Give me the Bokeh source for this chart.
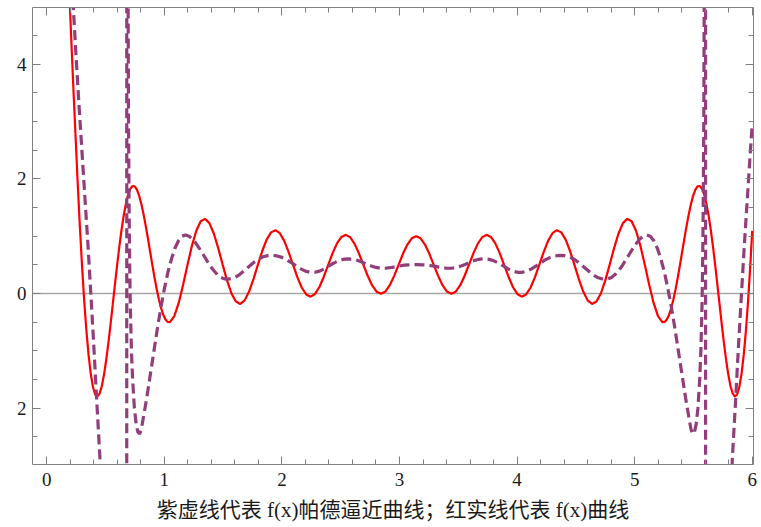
from bokeh.plotting import figure
from bokeh.models import Range1d, LinearAxis, SingleIntervalTicker, Span
from bokeh.embed import file_html
from bokeh.resources import INLINE

# ---- data: red solid curve f(x) ----
red_x = [0.1870, 0.2244, 0.2618, 0.2805, 0.2992, 0.3179, 0.3366, 0.3553, 0.3740, 0.3927,
         0.4114, 0.4301, 0.4488, 0.4675, 0.4862, 0.5049, 0.5236, 0.5423, 0.5610, 0.5797,
         0.5984, 0.6171, 0.6358, 0.6545, 0.6732, 0.6919, 0.7106, 0.7293, 0.7480, 0.7667,
         0.7854, 0.8041, 0.8228, 0.8415, 0.8602, 0.8789, 0.8976, 0.9163, 0.9350, 0.9537,
         0.9724, 0.9911, 1.0098, 1.0285, 1.0472,
         1.0846, 1.1220, 1.1594, 1.1968, 1.2342,
         1.2716, 1.3090, 1.3464, 1.3838, 1.4212, 1.4586, 1.4960, 1.5334, 1.5708, 1.6082,
         1.6456, 1.6830, 1.7204, 1.7578, 1.7952, 1.8326, 1.8700, 1.9074, 1.9448, 1.9822,
         2.0196, 2.0570, 2.0944, 2.1318, 2.1692, 2.2066, 2.2440, 2.2814, 2.3188, 2.3562,
         2.3936, 2.4310, 2.4684, 2.5058, 2.5432, 2.5806, 2.6180, 2.6554, 2.6928, 2.7302,
         2.7676, 2.8050, 2.8424, 2.8798, 2.9172, 2.9546, 2.9920, 3.0294, 3.0668, 3.1042,
         3.1416, 3.1790, 3.2164, 3.2538, 3.2912, 3.3286, 3.3660, 3.4034, 3.4408, 3.4782,
         3.5156, 3.5530, 3.5904, 3.6278, 3.6652, 3.7026, 3.7400, 3.7774, 3.8148, 3.8522,
         3.8896, 3.9270, 3.9644, 4.0018, 4.0392, 4.0766, 4.1140, 4.1514, 4.1888, 4.2262,
         4.2636, 4.3010, 4.3384, 4.3758, 4.4132, 4.4506, 4.4880, 4.5254, 4.5628, 4.6002,
         4.6376, 4.6750, 4.7124, 4.7498, 4.7872, 4.8246, 4.8620, 4.8994, 4.9368, 4.9742,
         5.0116, 5.0490, 5.0864, 5.1238, 5.1612, 5.1986,
         5.2360, 5.2547, 5.2734, 5.2921, 5.3108, 5.3295, 5.3482, 5.3669, 5.3856, 5.4043,
         5.4230, 5.4417, 5.4604, 5.4791, 5.4978, 5.5165, 5.5352, 5.5539, 5.5726, 5.5913,
         5.6100, 5.6287, 5.6474, 5.6661, 5.6848, 5.7035, 5.7222, 5.7409, 5.7596, 5.7783,
         5.7970, 5.8157, 5.8344, 5.8531, 5.8718, 5.8905, 5.9092, 5.9279, 5.9466, 5.9653,
         5.9840, 6.0000]
red_y = [5.455, 3.660, 1.967, 1.198, 0.500, -0.116, -0.642, -1.072, -1.402, -1.631,
         -1.762, -1.798, -1.747, -1.617, -1.419, -1.164, -0.866, -0.537, -0.191, 0.159,
         0.500, 0.821, 1.112, 1.364, 1.570, 1.726, 1.828, 1.875, 1.869, 1.811,
         1.707, 1.562, 1.384, 1.180, 0.959, 0.729, 0.500, 0.279, 0.075, -0.105,
         -0.257, -0.374, -0.455, -0.497, -0.500,
         -0.395, -0.165, 0.151, 0.500, 0.831,
         1.095, 1.259, 1.302, 1.224, 1.042, 0.787, 0.500, 0.224, 0.000, -0.141,
         -0.182, -0.120, 0.034, 0.252, 0.500, 0.741, 0.939, 1.066, 1.105, 1.052,
         0.918, 0.723, 0.500, 0.281, 0.100, -0.017, -0.055, -0.008, 0.114, 0.293,
         0.500, 0.704, 0.875, 0.986, 1.023, 0.981, 0.866, 0.697, 0.500, 0.305,
         0.140, 0.031, -0.006, 0.034, 0.144, 0.308, 0.500, 0.692, 0.854, 0.962,
         1.000, 0.962, 0.854, 0.692, 0.500, 0.308, 0.144, 0.034, -0.006, 0.031,
         0.140, 0.305, 0.500, 0.697, 0.866, 0.981, 1.023, 0.986, 0.875, 0.704,
         0.500, 0.293, 0.114, -0.008, -0.055, -0.017, 0.100, 0.281, 0.500, 0.723,
         0.918, 1.052, 1.105, 1.066, 0.939, 0.741, 0.500, 0.252, 0.034, -0.120,
         -0.182, -0.141, 0.000, 0.224, 0.500, 0.787, 1.042, 1.224, 1.302, 1.259,
         1.095, 0.831, 0.500, 0.151, -0.165, -0.395,
         -0.500, -0.497, -0.455, -0.374, -0.257, -0.105, 0.075, 0.279, 0.500, 0.729,
         0.959, 1.180, 1.384, 1.562, 1.707, 1.811, 1.869, 1.875, 1.828, 1.726,
         1.570, 1.364, 1.112, 0.821, 0.500, 0.159, -0.191, -0.537, -0.866, -1.164,
         -1.419, -1.617, -1.747, -1.798, -1.762, -1.631, -1.402, -1.072, -0.642, -0.116,
         0.500, 1.093]

# ---- data: purple dashed curve (Pade approximant) ----
pade_x = [0.200, 0.225, 0.250, 0.275, 0.300, 0.325, 0.350, 0.375, 0.400, 0.425,
          0.450, 0.475, 0.500, 0.550, 0.600, 0.640, 0.665, 0.678, 0.682, 0.684,
          0.687, 0.691, 0.695, 0.700, 0.705, 0.710, 0.720, 0.730, 0.745, 0.760,
          0.775, 0.790, 0.805, 0.820, 0.850, 0.880, 0.910, 0.940, 0.970, 1.000,
          1.030, 1.060, 1.090, 1.120, 1.150, 1.180, 1.210, 1.240, 1.270, 1.300,
          1.330, 1.360, 1.390, 1.420, 1.450, 1.480, 1.510, 1.540, 1.570, 1.600,
          1.640, 1.680, 1.720, 1.760, 1.800, 1.840, 1.880, 1.920, 1.960, 2.000,
          2.040, 2.080, 2.120, 2.160, 2.200, 2.240, 2.280, 2.320, 2.360, 2.400,
          2.440, 2.480, 2.520, 2.560, 2.600, 2.640, 2.680, 2.720, 2.760, 2.800,
          2.840, 2.880, 2.920, 2.960, 3.000, 3.040, 3.080, 3.1416,
          3.2032, 3.2432, 3.2832, 3.3232, 3.3632, 3.4032, 3.4432, 3.4832, 3.5232, 3.5632,
          3.6032, 3.6432, 3.6832, 3.7232, 3.7632, 3.8032, 3.8432, 3.8832, 3.9232, 3.9632,
          4.0032, 4.0432, 4.0832, 4.1232, 4.1632, 4.2032, 4.2432, 4.2832, 4.3232, 4.3632,
          4.4032, 4.4432, 4.4832, 4.5232, 4.5632, 4.6032, 4.6432, 4.6832, 4.7132, 4.7432,
          4.7732, 4.8032, 4.8332, 4.8632, 4.8932, 4.9232, 4.9532, 4.9832, 5.0132, 5.0432,
          5.0732, 5.1032, 5.1332, 5.1632, 5.1932, 5.2232, 5.2532, 5.2832, 5.3132, 5.3432,
          5.3732, 5.4032, 5.4332, 5.4632, 5.4782, 5.4932, 5.5082, 5.5232, 5.5382, 5.5532,
          5.5632, 5.5732, 5.5782, 5.5832, 5.5882, 5.5922, 5.5962, 5.5992, 5.6012, 5.6052,
          5.6182, 5.6432, 5.6832, 5.7332, 5.7832, 5.8082, 5.8332, 5.8582, 5.8832, 5.9082,
          5.9332, 5.9582, 5.9832, 6.0000]
pade_y = [5.90, 5.00, 4.10, 3.25, 2.45, 1.65, 0.85, -0.02, -0.92, -1.88,
          -2.80, -3.80, -5.00, -8.00, -13.0, -25.0, -60.0, -200.0, 200.0, 30.0,
          12.0, 5.50, 3.00, 1.50, 0.50, -0.20, -1.00, -1.50, -2.00, -2.28,
          -2.42, -2.45, -2.36, -2.18, -1.82, -1.42, -1.02, -0.62, -0.25, 0.08,
          0.37, 0.60, 0.79, 0.92, 1.00, 1.02, 1.00, 0.95, 0.87, 0.78,
          0.68, 0.58, 0.48, 0.40, 0.33, 0.28, 0.255, 0.25, 0.26, 0.28,
          0.33, 0.40, 0.47, 0.54, 0.60, 0.64, 0.66, 0.665, 0.655, 0.63,
          0.59, 0.54, 0.48, 0.43, 0.39, 0.37, 0.37, 0.39, 0.43, 0.48,
          0.53, 0.57, 0.595, 0.605, 0.60, 0.58, 0.55, 0.51, 0.48, 0.455,
          0.44, 0.44, 0.45, 0.465, 0.48, 0.495, 0.50, 0.505,
          0.50, 0.495, 0.48, 0.465, 0.45, 0.44, 0.44, 0.455, 0.48, 0.51,
          0.55, 0.58, 0.60, 0.605, 0.595, 0.57, 0.53, 0.48, 0.43, 0.39,
          0.37, 0.37, 0.39, 0.43, 0.48, 0.54, 0.59, 0.63, 0.655, 0.665,
          0.66, 0.64, 0.60, 0.54, 0.47, 0.40, 0.33, 0.28, 0.26, 0.25,
          0.255, 0.28, 0.33, 0.40, 0.48, 0.58, 0.68, 0.78, 0.87, 0.95,
          1.00, 1.02, 1.00, 0.92, 0.79, 0.60, 0.37, 0.08, -0.25, -0.62,
          -1.02, -1.42, -1.82, -2.18, -2.36, -2.45, -2.42, -2.28, -2.00, -1.50,
          -1.00, -0.20, 0.50, 1.50, 3.00, 5.50, 12.0, 30.0, 200.0, -200.0,
          -60.0, -25.0, -13.0, -8.00, -5.00, -3.80, -2.80, -1.88, -0.92, -0.02,
          0.85, 1.65, 2.45, 2.95]

x_ticks_major = 1
y_ticks_major = 2
y_label_overrides = {-2: "2"}
x_title = "紫虚线代表 f(x)帕德逼近曲线；红实线代表 f(x)曲线"

FRAME = "#808080"
SERIF = "Liberation Serif"

p = figure(width=761, height=527,
           x_range=Range1d(-0.1216, 6.0109), y_range=Range1d(-2.983, 4.989),
           x_axis_type=None, y_axis_type=None,
           output_backend="svg", toolbar_location=None,
           min_border_left=32, min_border_right=8, min_border_top=7, min_border_bottom=63,
           background_fill_color="white", border_fill_color="white")
p.outline_line_color = None

xt = SingleIntervalTicker(interval=x_ticks_major, num_minor_ticks=5)
yt = SingleIntervalTicker(interval=y_ticks_major, num_minor_ticks=4)


def style(ax, ticker, labels):
    ax.ticker = ticker
    ax.axis_line_color = FRAME
    ax.axis_line_width = 1
    ax.major_tick_line_color = FRAME
    ax.minor_tick_line_color = FRAME
    ax.major_tick_in = 8
    ax.major_tick_out = 0
    ax.minor_tick_in = 5
    ax.minor_tick_out = 0
    if labels:
        ax.major_label_text_font = SERIF
        ax.major_label_text_font_size = "19px"
        ax.major_label_text_color = "#1a1a1a"
    else:
        ax.major_label_text_font_size = "1px"
        ax.major_label_text_color = None
        ax.major_label_standoff = 0


bx = LinearAxis()
style(bx, xt, True)
bx.major_label_standoff = 8
bx.axis_label = x_title
bx.axis_label_text_font = "Liberation Serif, Noto Sans CJK SC"
bx.axis_label_text_font_style = "normal"
bx.axis_label_text_font_size = "21px"
bx.axis_label_text_color = "#1a1a1a"
bx.axis_label_standoff = 9
p.add_layout(bx, "below")

tx = LinearAxis()
style(tx, xt, False)
p.add_layout(tx, "above")

ly = LinearAxis()
style(ly, yt, True)
ly.major_label_standoff = 6
ly.major_label_overrides = y_label_overrides
p.add_layout(ly, "left")

ry = LinearAxis()
style(ry, yt, False)
p.add_layout(ry, "right")

p.add_layout(Span(location=0, dimension="width", line_color="#a8a8a8",
                  line_width=1.3, level="underlay"))

p.line(red_x, red_y, line_color="#ff0000", line_width=2.2)
p.line(pade_x, pade_y, line_color="#923e7a", line_width=3.2, line_dash="10 5")

open("out.html", "w").write(file_html(p, INLINE))
